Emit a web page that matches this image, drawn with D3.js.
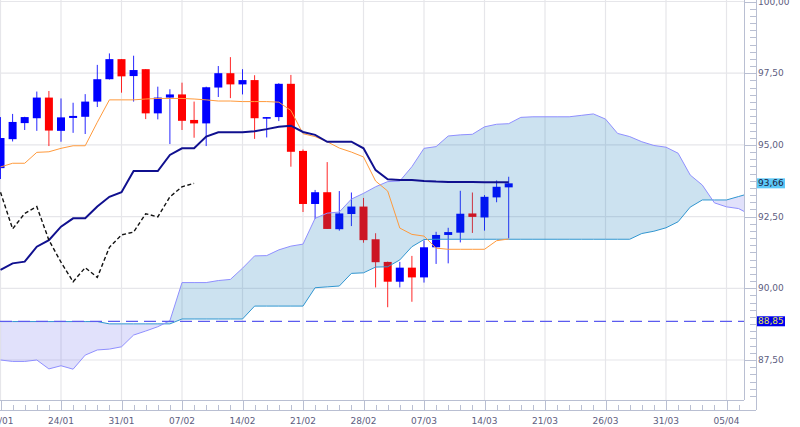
<!DOCTYPE html>
<html><head><meta charset="utf-8">
<script src="https://cdn.jsdelivr.net/npm/d3@7"></script>
<style>body{margin:0;background:#fff}svg{display:block}</style>
</head><body>
<svg id="c" width="800" height="427"></svg>
<script>
// ---- DATA ----
const xTickLabels = ['17/01','24/01','31/01','07/02','14/02','21/02','28/02','07/03','14/03','21/03','26/03','31/03','05/04'];
const yTickValues = [87.5, 90, 92.5, 95, 97.5, 100];
const yTickLabels = ['87,50','90,00','92,50','95,00','97,50','100,00'];

const opens  = [94.19,95.20,95.76,95.93,96.65,95.49,95.94,95.98,96.51,97.29,97.99,97.40,97.64,96.10,96.65,96.76,95.87,95.75,97.00,97.50,97.11,97.26,95.95,95.97,97.13,94.79,92.94,93.35,92.06,92.59,92.85,91.71,90.92,90.23,90.72,90.38,91.43,91.86,91.94,92.61,92.47,93.17,93.52];
const highs  = [95.97,96.08,95.98,96.86,96.88,96.62,96.47,96.77,97.79,98.19,97.99,98.11,97.64,97.03,96.94,97.17,96.51,97.03,97.75,98.06,97.64,97.43,95.97,97.15,97.44,94.84,93.43,94.40,93.39,93.34,93.15,91.92,90.93,90.92,91.13,91.67,91.97,92.11,93.40,93.34,93.25,93.76,93.89];
const lows   = [93.81,95.12,95.52,95.49,94.96,95.11,95.42,95.38,96.32,97.28,96.82,96.51,95.90,95.89,95.03,95.52,95.25,94.96,96.67,96.63,96.76,95.21,95.26,95.83,94.24,92.66,92.42,92.07,92.01,92.17,91.59,90.03,89.34,90.03,89.53,90.20,90.85,90.87,91.60,91.93,92.01,93.00,91.74];
const closes = [95.24,95.80,95.97,96.65,95.50,95.96,96.01,96.51,97.29,97.99,97.39,97.61,96.10,96.65,96.76,95.84,95.75,97.01,97.50,97.11,97.26,95.93,95.97,97.13,94.76,92.94,93.35,92.07,92.61,92.85,91.68,90.91,90.23,90.72,90.38,91.43,91.86,91.96,92.60,92.49,93.19,93.54,93.66];

const tenkan = [94.23,94.36,94.36,94.74,94.76,94.88,94.97,94.97,95.79,96.57,96.57,96.57,96.60,96.62,96.62,96.62,96.60,96.57,96.53,96.53,96.51,96.51,96.51,96.49,96.20,95.39,95.29,95.11,94.89,94.75,94.58,93.74,93.39,92.10,91.88,91.82,91.40,91.36,91.36,91.36,91.36,91.66,91.72];
const kijun  = [90.64,90.87,90.93,91.45,91.68,92.15,92.44,92.44,92.85,93.19,93.35,94.09,94.09,94.09,94.65,94.88,94.88,95.29,95.44,95.44,95.44,95.48,95.55,95.63,95.67,95.45,95.35,95.11,95.11,95.11,94.88,94.12,93.80,93.78,93.78,93.74,93.72,93.71,93.71,93.71,93.70,93.70,93.70];
const chikou = [93.35,92.07,92.61,92.85,91.68,90.91,90.23,90.72,90.38,91.43,91.86,91.96,92.60,92.49,93.19,93.54,93.66];

const spanA = [87.50,87.45,87.45,87.50,87.19,87.30,87.18,87.67,87.85,87.88,87.96,88.37,88.51,88.66,88.87,90.20,90.20,90.20,90.27,90.31,90.70,91.13,91.14,91.34,91.47,91.54,92.44,92.62,92.66,93.11,93.31,93.54,93.72,93.74,94.24,94.88,94.94,95.31,95.35,95.37,95.63,95.72,95.74,95.96,95.98,95.98,95.98,95.98,96.03,96.08,95.90,95.40,95.29,95.11,94.98,94.92,94.71,93.95,93.60,92.98,92.84,92.78,92.56];
const spanB = [88.84,88.84,88.84,88.84,88.84,88.84,88.84,88.84,88.84,88.76,88.76,88.76,88.76,88.76,88.76,88.93,88.93,88.93,88.93,88.93,88.93,89.38,89.38,89.38,89.38,89.38,90.02,90.05,90.08,90.52,90.54,90.74,90.75,90.99,91.45,91.70,91.71,91.71,91.71,91.71,91.71,91.71,91.71,91.71,91.71,91.71,91.71,91.71,91.71,91.71,91.71,91.71,91.71,91.91,91.99,92.11,92.32,92.83,93.08,93.08,93.08,93.20,93.32];

const lastPrice = 93.66;
const refLevel = 88.85;

// ---- DRAW ----
const svg = d3.select('#c');
const plotR = 744, plotB = 400, axX = 756, axY = 410;
const x = d3.scaleLinear().domain([0, 60]).range([0.5, 726.5]);
const y = d3.scaleLinear().domain([87.5, 100]).range([360, 1.5]);
const fmt = v => d3.format('.2f')(v).replace('.', ',');
const font = 'DejaVu Sans, Verdana, sans-serif';
const fs = 9;
const gridC = '#e6e6ea', axC = '#b9bfd2', txtC = '#5d5d80';

svg.append('rect').attr('width', 800).attr('height', 427).attr('fill', '#fff');

const defs = svg.append('defs');
defs.append('clipPath').attr('id', 'plotclip').append('rect')
  .attr('x', 0).attr('y', 0).attr('width', plotR).attr('height', plotB);

const idxB = d3.range(spanB.length);
defs.append('clipPath').attr('id', 'aboveB').append('path')
  .attr('d', d3.area().x(i => x(i)).y0(i => y(spanB[i])).y1(-50)(idxB));
defs.append('clipPath').attr('id', 'belowB').append('path')
  .attr('d', d3.area().x(i => x(i)).y0(i => y(spanB[i])).y1(plotB + 50)(idxB));

// grid
const majorIdx = xTickLabels.map((d, k) => k * 5);
const grid = svg.append('g');
grid.selectAll('line.v').data(majorIdx).join('line')
  .attr('x1', d => x(d)).attr('x2', d => x(d)).attr('y1', 0).attr('y2', plotB)
  .attr('stroke', gridC).attr('stroke-width', 1.2);
grid.selectAll('line.h').data(yTickValues).join('line')
  .attr('x1', 0).attr('x2', plotR).attr('y1', d => y(d)).attr('y2', d => y(d))
  .attr('stroke', gridC).attr('stroke-width', 1.2);

const plot = svg.append('g').attr('clip-path', 'url(#plotclip)');

// candles
const candles = plot.append('g');
const bw = 8;
d3.range(closes.length).forEach(i => {
  const up = closes[i] >= opens[i];
  const col = up ? '#0000ff' : '#ff0000';
  candles.append('line')
    .attr('x1', x(i)).attr('x2', x(i)).attr('y1', y(highs[i])).attr('y2', y(lows[i]))
    .attr('stroke', col).attr('stroke-width', 1).attr('stroke-opacity', 0.85);
  const top = y(Math.max(opens[i], closes[i]));
  const h = Math.max(1.6, Math.abs(y(opens[i]) - y(closes[i])));
  candles.append('rect').attr('x', x(i) - bw / 2).attr('y', top)
    .attr('width', bw).attr('height', h).attr('fill', col);
});

// cloud
const areaAB = d3.area().x(i => x(i)).y0(i => y(spanB[i])).y1(i => y(spanA[i]));
plot.append('path').attr('d', areaAB(idxB)).attr('fill', 'rgba(0,110,180,0.2)')
  .attr('clip-path', 'url(#aboveB)');
plot.append('path').attr('d', areaAB(idxB)).attr('fill', 'rgba(90,90,235,0.18)')
  .attr('clip-path', 'url(#belowB)');
const line = arr => d3.line().x((d, i) => x(i)).y(d => y(d))(arr);
plot.append('path').attr('d', line(spanB)).attr('fill', 'none').attr('stroke', '#3096d0').attr('stroke-width', 1);
plot.append('path').attr('d', line(spanA)).attr('fill', 'none').attr('stroke', '#8f8fff').attr('stroke-width', 1);

// reference dashed line
plot.append('line').attr('x1', 0).attr('x2', plotR).attr('y1', y(refLevel)).attr('y2', y(refLevel))
  .attr('stroke', '#5b5bef').attr('stroke-width', 1.3).attr('stroke-dasharray', '12,6');

// tenkan, kijun, chikou
plot.append('path').attr('d', line(tenkan)).attr('fill', 'none').attr('stroke', '#ff9a3c').attr('stroke-width', 1);
plot.append('path').attr('d', line(kijun)).attr('fill', 'none').attr('stroke', '#10108f').attr('stroke-width', 2);
plot.append('path').attr('d', line(chikou)).attr('fill', 'none').attr('stroke', '#111').attr('stroke-width', 1.4)
  .attr('stroke-dasharray', '4,2.5');

// borders & axes
const ax = svg.append('g').attr('stroke', axC).attr('shape-rendering', 'crispEdges');
ax.append('line').attr('x1', plotR + 0.5).attr('x2', plotR + 0.5).attr('y1', 0).attr('y2', plotB);
ax.append('line').attr('x1', 0).attr('x2', plotR).attr('y1', plotB + 0.5).attr('y2', plotB + 0.5);
ax.append('line').attr('x1', axX + 0.5).attr('x2', axX + 0.5).attr('y1', 0).attr('y2', axY);
ax.append('line').attr('x1', 0).attr('x2', axX).attr('y1', axY + 0.5).attr('y2', axY + 0.5);

// y ticks
const yMinor = d3.range(86.25, 100.01, 0.25).filter(v => !yTickValues.some(t => Math.abs(t - v) < 1e-6));
ax.selectAll('line.ym').data(yMinor).join('line')
  .attr('x1', 750).attr('x2', axX).attr('y1', d => Math.round(y(d)) + 0.5).attr('y2', d => Math.round(y(d)) + 0.5);
ax.selectAll('line.yM').data(yTickValues).join('line')
  .attr('x1', plotR).attr('x2', axX).attr('y1', d => Math.round(y(d)) + 0.5).attr('y2', d => Math.round(y(d)) + 0.5);

// x ticks
const xMinor = d3.range(0, 62).filter(i => i % 5 !== 0);
ax.selectAll('line.xm').data(xMinor).join('line')
  .attr('x1', d => Math.round(x(d)) + 0.5).attr('x2', d => Math.round(x(d)) + 0.5).attr('y1', 405).attr('y2', axY);
ax.selectAll('line.xM').data(majorIdx).join('line')
  .attr('x1', d => Math.round(x(d)) + 0.5).attr('x2', d => Math.round(x(d)) + 0.5).attr('y1', plotB).attr('y2', axY);

// labels
svg.append('g').selectAll('text').data(yTickValues).join('text')
  .attr('x', 758).attr('y', d => y(d)).attr('dy', '0.35em')
  .attr('font-family', font).attr('font-size', fs).attr('fill', txtC)
  .text((d, k) => yTickLabels[k]);
svg.append('g').selectAll('text').data(majorIdx).join('text')
  .attr('x', d => x(d)).attr('y', 424).attr('text-anchor', 'middle')
  .attr('font-family', font).attr('font-size', fs).attr('fill', txtC)
  .text((d, k) => xTickLabels[k]);

// value badges
function badge(v, bg, fg) {
  const g = svg.append('g');
  g.append('rect').attr('x', 757).attr('y', y(v) - 5).attr('width', 28).attr('height', 10).attr('fill', bg);
  g.append('text').attr('x', 758).attr('y', y(v)).attr('dy', '0.35em')
    .attr('font-family', font).attr('font-size', fs).attr('fill', fg).text(fmt(v));
}
badge(lastPrice, '#5cc8f7', '#1a2040');
badge(refLevel, '#0000f0', '#e6e64a');
</script>
</body></html>
